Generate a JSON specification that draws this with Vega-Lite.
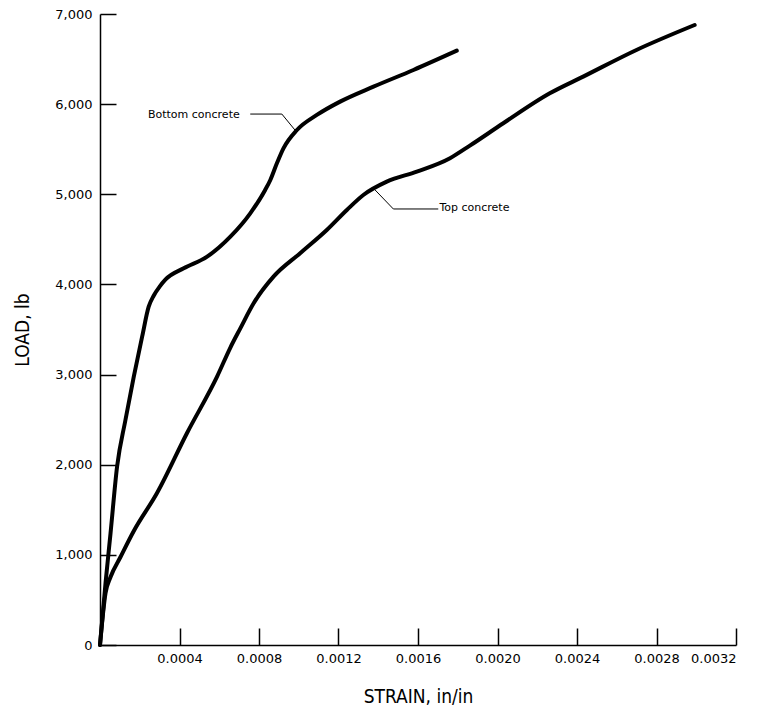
{
  "$schema": "https://vega.github.io/schema/vega-lite/v6.json",
  "autosize": {"type": "none"},
  "width": 636,
  "height": 631,
  "padding": {"left": 100, "top": 14, "right": 32, "bottom": 66},
  "background": "white",
  "config": {
    "view": {"stroke": null},
    "font": "DejaVu Sans",
    "axis": {
      "grid": false,
      "domainColor": "black",
      "domainWidth": 1.5,
      "tickColor": "black",
      "tickWidth": 1.5,
      "labelColor": "black",
      "labelFont": "DejaVu Sans",
      "labelFontSize": 13,
      "titleColor": "black",
      "titleFont": "DejaVu Sans Condensed",
      "titleFontSize": 19,
      "titleFontWeight": "normal"
    }
  },
  "datasets": {
    "curves": [
      {"series": "Bottom concrete", "i": 0, "strain": 0, "load": 0},
      {"series": "Bottom concrete", "i": 1, "strain": 0.000028, "load": 690},
      {"series": "Bottom concrete", "i": 2, "strain": 0.000053, "load": 1240},
      {"series": "Bottom concrete", "i": 3, "strain": 0.000086, "load": 1980},
      {"series": "Bottom concrete", "i": 4, "strain": 0.000128, "load": 2496},
      {"series": "Bottom concrete", "i": 5, "strain": 0.000170, "load": 2977},
      {"series": "Bottom concrete", "i": 6, "strain": 0.000212, "load": 3420},
      {"series": "Bottom concrete", "i": 7, "strain": 0.000245, "load": 3753},
      {"series": "Bottom concrete", "i": 8, "strain": 0.000270, "load": 3875},
      {"series": "Bottom concrete", "i": 9, "strain": 0.000300, "load": 3975},
      {"series": "Bottom concrete", "i": 10, "strain": 0.000330, "load": 4055},
      {"series": "Bottom concrete", "i": 11, "strain": 0.000421, "load": 4179},
      {"series": "Bottom concrete", "i": 12, "strain": 0.000539, "load": 4308},
      {"series": "Bottom concrete", "i": 13, "strain": 0.000656, "load": 4530},
      {"series": "Bottom concrete", "i": 14, "strain": 0.000756, "load": 4789},
      {"series": "Bottom concrete", "i": 15, "strain": 0.000831, "load": 5048},
      {"series": "Bottom concrete", "i": 16, "strain": 0.000857, "load": 5159},
      {"series": "Bottom concrete", "i": 17, "strain": 0.000890, "load": 5344},
      {"series": "Bottom concrete", "i": 18, "strain": 0.000923, "load": 5510},
      {"series": "Bottom concrete", "i": 19, "strain": 0.000991, "load": 5713},
      {"series": "Bottom concrete", "i": 20, "strain": 0.001091, "load": 5880},
      {"series": "Bottom concrete", "i": 21, "strain": 0.001208, "load": 6028},
      {"series": "Bottom concrete", "i": 22, "strain": 0.001376, "load": 6194},
      {"series": "Bottom concrete", "i": 23, "strain": 0.001577, "load": 6379},
      {"series": "Bottom concrete", "i": 24, "strain": 0.001795, "load": 6593},
      {"series": "Top concrete", "i": 0, "strain": 0, "load": 0},
      {"series": "Top concrete", "i": 1, "strain": 0.000028, "load": 577},
      {"series": "Top concrete", "i": 2, "strain": 0.000053, "load": 754},
      {"series": "Top concrete", "i": 3, "strain": 0.000103, "load": 976},
      {"series": "Top concrete", "i": 4, "strain": 0.000170, "load": 1265},
      {"series": "Top concrete", "i": 5, "strain": 0.000287, "load": 1686},
      {"series": "Top concrete", "i": 6, "strain": 0.000438, "load": 2352},
      {"series": "Top concrete", "i": 7, "strain": 0.000589, "load": 2977},
      {"series": "Top concrete", "i": 8, "strain": 0.000656, "load": 3300},
      {"series": "Top concrete", "i": 9, "strain": 0.000706, "load": 3513},
      {"series": "Top concrete", "i": 10, "strain": 0.000773, "load": 3791},
      {"series": "Top concrete", "i": 11, "strain": 0.000873, "load": 4086},
      {"series": "Top concrete", "i": 12, "strain": 0.001007, "load": 4346},
      {"series": "Top concrete", "i": 13, "strain": 0.001141, "load": 4604},
      {"series": "Top concrete", "i": 14, "strain": 0.001242, "load": 4826},
      {"series": "Top concrete", "i": 15, "strain": 0.001325, "load": 4992},
      {"series": "Top concrete", "i": 16, "strain": 0.001443, "load": 5140},
      {"series": "Top concrete", "i": 17, "strain": 0.001594, "load": 5251},
      {"series": "Top concrete", "i": 18, "strain": 0.001761, "load": 5400},
      {"series": "Top concrete", "i": 19, "strain": 0.001861, "load": 5540},
      {"series": "Top concrete", "i": 20, "strain": 0.002029, "load": 5788},
      {"series": "Top concrete", "i": 21, "strain": 0.002263, "load": 6120},
      {"series": "Top concrete", "i": 22, "strain": 0.002431, "load": 6305},
      {"series": "Top concrete", "i": 23, "strain": 0.002699, "load": 6601},
      {"series": "Top concrete", "i": 24, "strain": 0.002992, "load": 6878}
    ],
    "leaders": [
      {"series": "Bottom concrete", "i": 0, "strain": 0.000756, "load": 5890},
      {"series": "Bottom concrete", "i": 1, "strain": 0.000915, "load": 5890},
      {"series": "Bottom concrete", "i": 2, "strain": 0.000982, "load": 5710},
      {"series": "Top concrete", "i": 0, "strain": 0.001384, "load": 5048},
      {"series": "Top concrete", "i": 1, "strain": 0.001476, "load": 4837},
      {"series": "Top concrete", "i": 2, "strain": 0.001702, "load": 4837}
    ],
    "labels": [
      {"series": "Bottom concrete", "strain": 0.000703, "load": 5880, "side": "right"},
      {"series": "Top concrete", "strain": 0.001708, "load": 4845, "side": "left"}
    ]
  },
  "encoding": {
    "x": {
      "field": "strain",
      "type": "quantitative",
      "scale": {"domain": [0, 0.0032], "nice": false, "zero": true},
      "axis": {
        "title": "STRAIN, in/in",
        "values": [0.0004, 0.0008, 0.0012, 0.0016, 0.002, 0.0024, 0.0028, 0.0032],
        "format": ".4f",
        "tickSize": -17,
        "labelPadding": 24,
        "labelDx": -8,
        "titlePadding": 22,
        "titleDx": 13
      }
    },
    "y": {
      "field": "load",
      "type": "quantitative",
      "scale": {"domain": [0, 7000], "nice": false},
      "axis": {
        "title": "LOAD, lb",
        "values": [0, 1000, 2000, 3000, 4000, 5000, 6000, 7000],
        "format": ",d",
        "tickSize": -16,
        "labelPadding": 24,
        "titlePadding": 22
      }
    }
  },
  "layer": [
    {
      "data": {"name": "curves"},
      "mark": {"type": "line", "color": "black", "strokeWidth": 4, "interpolate": "monotone", "strokeCap": "round", "strokeJoin": "round"},
      "encoding": {
        "detail": {"field": "series"},
        "order": {"field": "i", "type": "quantitative"}
      }
    },
    {
      "data": {"name": "leaders"},
      "mark": {"type": "line", "color": "black", "strokeWidth": 1},
      "encoding": {
        "detail": {"field": "series"},
        "order": {"field": "i", "type": "quantitative"}
      }
    },
    {
      "data": {"name": "labels"},
      "transform": [{"filter": "datum.side == 'right'"}],
      "mark": {"type": "text", "align": "right", "baseline": "middle", "fontSize": 11, "font": "DejaVu Sans", "color": "black"},
      "encoding": {"text": {"field": "series"}}
    },
    {
      "data": {"name": "labels"},
      "transform": [{"filter": "datum.side == 'left'"}],
      "mark": {"type": "text", "align": "left", "baseline": "middle", "fontSize": 11, "font": "DejaVu Sans", "color": "black"},
      "encoding": {"text": {"field": "series"}}
    }
  ]
}
